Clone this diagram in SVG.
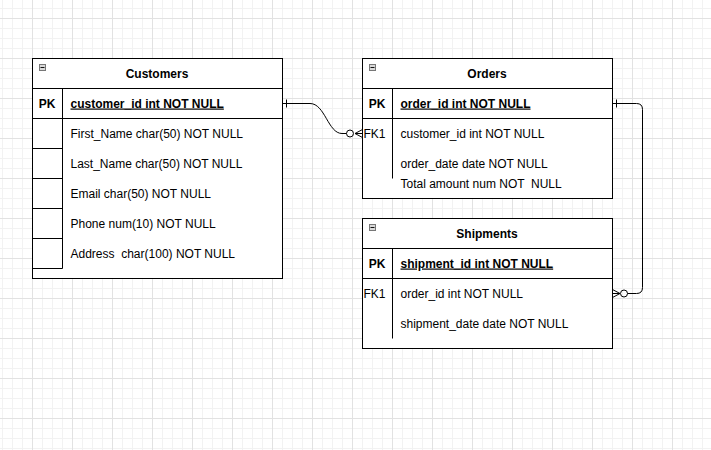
<svg xmlns="http://www.w3.org/2000/svg" width="711" height="450" viewBox="0 0 711 450">
<style>
text{font-family:"Liberation Sans",Arial,Helvetica,sans-serif;font-size:12px;fill:#000;white-space:pre}
.b{font-weight:bold}
.u{text-decoration:underline}
.c{text-anchor:middle}
.tbl{fill:#fff;stroke:#000;stroke-width:1}
.ln{stroke:#000;stroke-width:1;fill:none}
.icon{fill:#d9d9d9;stroke:#777;stroke-width:1}
.minus{stroke:#111;stroke-width:1;fill:none}
.edge{stroke:#000;stroke-width:1;fill:none}
</style>
<defs>
<pattern id="minor" patternUnits="userSpaceOnUse" x="2" y="8" width="10" height="10">
<path d="M0.5 0V10M0 0.5H10" stroke="#f2f2f2" stroke-width="1" fill="none"/>
</pattern>
<pattern id="major" patternUnits="userSpaceOnUse" x="32" y="18" width="40" height="40">
<path d="M0.5 0V40M0 0.5H40" stroke="#e2e2e2" stroke-width="1" fill="none"/>
</pattern>
</defs>
<rect width="711" height="450" fill="#fff"/>
<rect width="711" height="450" fill="url(#minor)"/>
<rect width="711" height="450" fill="url(#major)"/>

<g id="customers">
<rect class="tbl" x="32.5" y="58.5" width="250" height="220"/>
<rect class="icon" x="39.5" y="64.5" width="6" height="6"/>
<path class="minus" d="M40.5 67.5H44.5"/>
<text class="b c" x="157" y="77.5">Customers</text>
<path class="ln" d="M32.5 88.5H282.5M32.5 118.5H282.5M62.5 88.5V268.5M32.5 148.5H62.5M32.5 178.5H62.5M32.5 208.5H62.5M32.5 238.5H62.5M32.5 268.5H62.5"/>
<text class="b c" x="47" y="107.5">PK</text>
<text class="b u" x="70.5" y="107.5">customer_id int NOT NULL</text>
<text x="70.5" y="137.5">First_Name char(50) NOT NULL</text>
<text x="70.5" y="167.5">Last_Name char(50) NOT NULL</text>
<text x="70.5" y="197.5">Email char(50) NOT NULL</text>
<text x="70.5" y="227.5">Phone num(10) NOT NULL</text>
<text x="70.5" y="257.5">Address  char(100) NOT NULL</text>
</g>

<g id="orders">
<rect class="tbl" x="362.5" y="58.5" width="250" height="140"/>
<rect class="icon" x="369.5" y="64.5" width="6" height="6"/>
<path class="minus" d="M370.5 67.5H374.5"/>
<text class="b c" x="487" y="77.5">Orders</text>
<path class="ln" d="M362.5 88.5H612.5M362.5 118.5H612.5M392.5 88.5V178.5"/>
<text class="b c" x="377" y="107.5">PK</text>
<text class="b u" x="400.5" y="107.5">order_id int NOT NULL</text>
<text x="363.5" y="137.5">FK1</text>
<text x="400.5" y="137.5">customer_id int NOT NULL</text>
<text x="400.5" y="167.5">order_date date NOT NULL</text>
<text x="400.5" y="187.5">Total amount num NOT  NULL</text>
</g>

<g id="shipments">
<rect class="tbl" x="362.5" y="218.5" width="250" height="130"/>
<rect class="icon" x="369.5" y="224.5" width="6" height="6"/>
<path class="minus" d="M370.5 227.5H374.5"/>
<text class="b c" x="487" y="237.5">Shipments</text>
<path class="ln" d="M362.5 248.5H612.5M362.5 278.5H612.5M392.5 248.5V338.5"/>
<text class="b c" x="377" y="267.5">PK</text>
<text class="b u" x="400.5" y="267.5">shipment_id int NOT NULL</text>
<text x="363.5" y="297.5">FK1</text>
<text x="400.5" y="297.5">order_id int NOT NULL</text>
<text x="400.5" y="327.5">shipment_date date NOT NULL</text>
</g>

<g id="connectors">
<path class="edge" d="M282.5 103.5H310C325 103.5 328 133.5 342 133.5H346.5"/>
<path class="edge" d="M286.5 99.5V107.5"/>
<circle class="edge" cx="350" cy="133.5" r="3.5" fill="#fff"/>
<path class="edge" d="M362.5 129.5L355 133.5L362.5 137.5M355 133.5H362.5"/>

<path class="edge" d="M612.5 103.5H636.5Q642.5 103.5 642.5 109.5V287.5Q642.5 293.5 636.5 293.5H627.5"/>
<path class="edge" d="M616.5 99.5V107.5"/>
<circle class="edge" cx="624" cy="293.5" r="3.5" fill="#fff"/>
<path class="edge" d="M612.5 289.5L620 293.5L612.5 297.5M620 293.5H612.5"/>
</g>
</svg>
